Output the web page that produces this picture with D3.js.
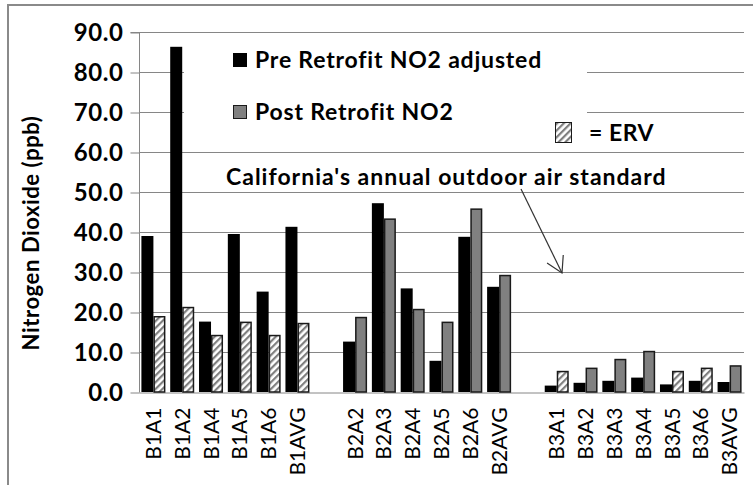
<!DOCTYPE html>
<html>
<head>
<meta charset="utf-8">
<script src="https://cdn.jsdelivr.net/npm/d3@7/dist/d3.min.js"></script>
<style>
  html, body { margin: 0; padding: 0; background: #fff; }
  svg { display: block; }
  text { font-family: Lato, "Open Sans", "Liberation Sans", sans-serif; fill: #000; }
</style>
</head>
<body>
<svg id="chart" width="753" height="485"></svg>
<script>
// ---- data ----
const categories = ["B1A1","B1A2","B1A4","B1A5","B1A6","B1AVG"," ",
                    "B2A2","B2A3","B2A4","B2A5","B2A6","B2AVG","  ",
                    "B3A1","B3A2","B3A3","B3A4","B3A5","B3A6","B3AVG"];
const preRetrofit  = [39.0, 86.3, 17.6, 39.5, 25.1, 41.3, null,
                      12.6, 47.2, 25.9, 7.8, 38.8, 26.3, null,
                      1.6, 2.3, 2.8, 3.6, 1.9, 2.8, 2.5];
const postRetrofit = [19.0, 21.3, 14.3, 17.6, 14.3, 17.3, null,
                      18.8, 43.4, 20.8, 17.6, 45.9, 29.3, null,
                      5.3, 6.1, 8.3, 10.3, 5.3, 6.1, 6.7];
const isERV        = [1,1,1,1,1,1,0, 0,0,0,0,0,0,0, 1,0,0,0,1,1,0];
const yTicks = [0,10,20,30,40,50,60,70,80,90];
const seriesNames = ["Pre Retrofit NO2 adjusted", "Post Retrofit NO2"];
const annotationText = "California's annual outdoor air standard";
const ervText = "= ERV";
const yTitle = "Nitrogen Dioxide (ppb)";

// ---- layout ----
const W = 753, H = 485;
const plot = {left: 139, right: 744, top: 32, bottom: 392};
const svg = d3.select("#chart");

const defs = svg.append("defs");
const pat = defs.append("pattern")
  .attr("id","hatch").attr("patternUnits","userSpaceOnUse")
  .attr("width",4.8).attr("height",4.8)
  .attr("patternTransform","rotate(45)");
pat.append("rect").attr("width",4.8).attr("height",4.8).attr("fill","#fff");
pat.append("rect").attr("x",0).attr("width",2.2).attr("height",4.8).attr("fill","#7f7f7f");

// outer border
svg.append("rect").attr("x",8).attr("y",5).attr("width",W).attr("height",H)
  .attr("fill","none").attr("stroke","#8a8a8a").attr("stroke-width",2);

const x = d3.scaleBand().domain(categories).range([plot.left, plot.right]).padding(0);
const xs = d3.scaleBand().domain(["pre","post"]).range([0, x.bandwidth()]).paddingInner(0).paddingOuter(0.2);
const y = d3.scaleLinear().domain([0,90]).range([plot.bottom, plot.top]);

// gridlines
svg.append("g").selectAll("line").data(yTicks.filter(d=>d>0)).join("line")
  .attr("x1",plot.left).attr("x2",plot.right)
  .attr("y1",d=>y(d)+0.5).attr("y2",d=>y(d)+0.5)
  .attr("stroke","#868686").attr("stroke-width",1);

// y axis
const yAxis = d3.axisLeft(y).tickValues(yTicks).tickFormat(d3.format(".1f"))
  .tickSize(9).tickPadding(7);
const gy = svg.append("g").attr("transform",`translate(${plot.left+0.5},0.5)`).call(yAxis);
gy.select(".domain").attr("stroke","#868686").attr("d",`M-9,${y(90)}H0V${y(0)}`);
gy.selectAll(".tick line").attr("stroke","#868686");
gy.selectAll(".tick text").attr("font-family","Lato, sans-serif").attr("font-weight","bold")
  .attr("font-size",24).attr("letter-spacing",0.6).attr("fill","#000");

// x axis
const xAxis = d3.axisBottom(x).tickSize(0).tickFormat(d=>d.trim());
const gx = svg.append("g").attr("transform",`translate(0,${plot.bottom+0.5})`).call(xAxis);
gx.select(".domain").attr("stroke","#868686");
gx.selectAll(".tick text")
  .attr("font-family","Lato, sans-serif").attr("font-size",21).attr("fill","#000")
  .attr("text-anchor","end")
  .attr("transform","rotate(-90)")
  .attr("x",-15).attr("y",0).attr("dy","0.36em");

// bars
const data = categories.map((c,i)=>({c, pre:preRetrofit[i], post:postRetrofit[i], erv:isERV[i]}))
  .filter(d=>d.pre!==null);
const bars = svg.append("g");
bars.selectAll(".pre").data(data).join("rect").attr("class","pre")
  .attr("x",d=>x(d.c)+xs("pre")).attr("width",xs.bandwidth())
  .attr("y",d=>y(d.pre)).attr("height",d=>y(0)-y(d.pre))
  .attr("fill","#000");
bars.selectAll(".post").data(data).join("rect").attr("class","post")
  .attr("x",d=>x(d.c)+xs("post")+0.75).attr("width",xs.bandwidth()-1.5)
  .attr("y",d=>y(d.post)+0.75).attr("height",d=>y(0)-y(d.post)-0.75)
  .attr("fill",d=>d.erv ? "url(#hatch)" : "#808080")
  .attr("stroke","#1a1a1a").attr("stroke-width",1.5);

// legend (white box hiding gridlines)
svg.append("rect").attr("x",184).attr("y",40).attr("width",403).attr("height",84).attr("fill","#fff");
const lg = svg.append("g");
lg.append("rect").attr("x",233).attr("y",53).attr("width",14).attr("height",14).attr("fill","#000");
lg.append("rect").attr("x",233.5).attr("y",105.5).attr("width",13).attr("height",13)
  .attr("fill","#808080").attr("stroke","#1a1a1a").attr("stroke-width",1);
lg.append("text").attr("x",255).attr("y",68).attr("font-size",23).attr("letter-spacing",0.8)
  .attr("font-weight","bold").text(seriesNames[0]);
lg.append("text").attr("x",255).attr("y",120).attr("font-size",23).attr("letter-spacing",0.8)
  .attr("font-weight","bold").text(seriesNames[1]);

// ERV key
svg.append("rect").attr("x",555.5).attr("y",122.5).attr("width",16).attr("height",20)
  .attr("fill","url(#hatch)").attr("stroke","#1a1a1a").attr("stroke-width",1);
svg.append("text").attr("x",589).attr("y",141).attr("font-size",23).attr("letter-spacing",0.5)
  .attr("font-weight","bold").text(ervText);

// annotation
svg.append("text").attr("x",226).attr("y",185).attr("font-size",23).attr("letter-spacing",1)
  .attr("font-weight","bold").text(annotationText);
const a0 = [521,189], a1 = [562, y(30)+1];
svg.append("line").attr("x1",a0[0]).attr("y1",a0[1]).attr("x2",a1[0]).attr("y2",a1[1])
  .attr("stroke","#333").attr("stroke-width",1.2);
const ang = Math.atan2(a0[1]-a1[1], a0[0]-a1[0]);
const L = 18, spread = 30*Math.PI/180;
const head = [[a1[0]+L*Math.cos(ang-spread), a1[1]+L*Math.sin(ang-spread)], a1,
              [a1[0]+L*Math.cos(ang+spread), a1[1]+L*Math.sin(ang+spread)]];
svg.append("path").attr("d",d3.line()(head)).attr("fill","none").attr("stroke","#333").attr("stroke-width",1.2);

// y title
svg.append("text").attr("transform","translate(39,233) rotate(-90)")
  .attr("text-anchor","middle").attr("font-size",22).attr("letter-spacing",0.6)
  .attr("font-weight","bold").text(yTitle);
</script>
</body>
</html>
